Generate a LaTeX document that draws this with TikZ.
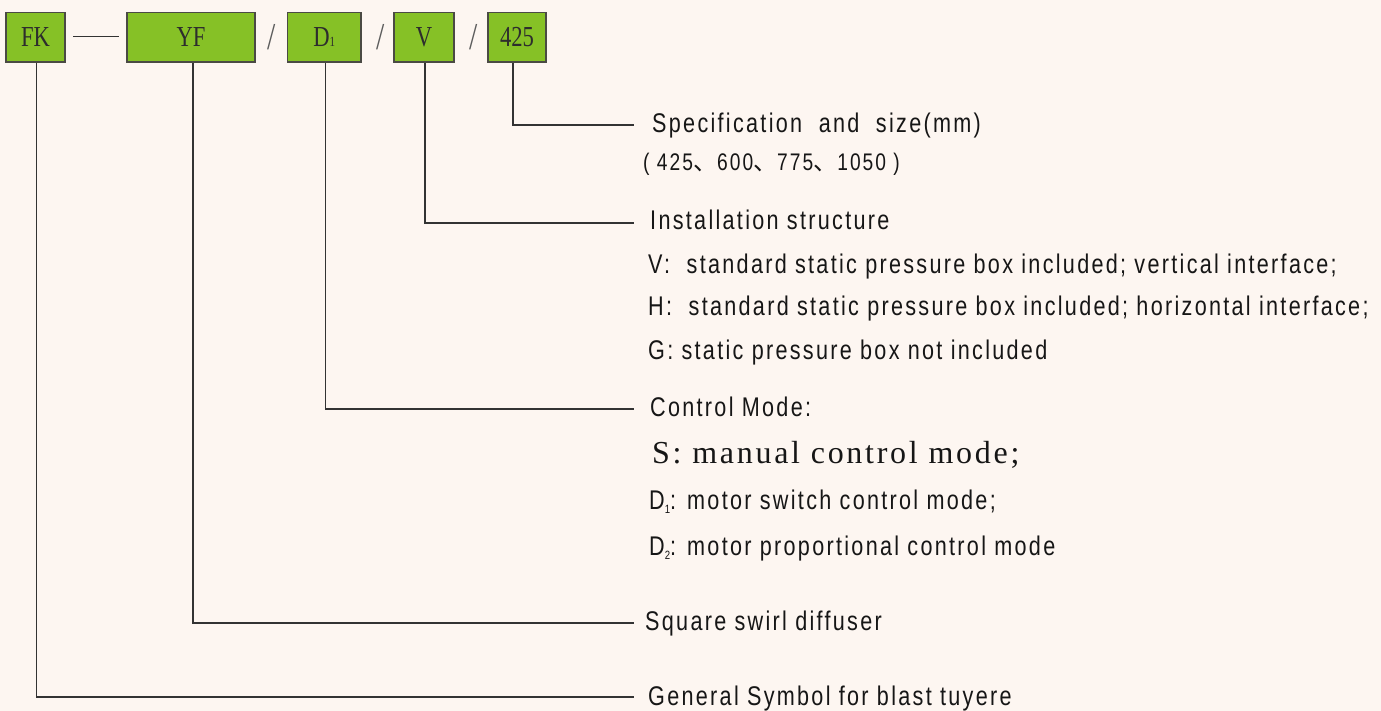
\documentclass[tikz,border=0pt]{standalone}
\usepackage{fontspec}
\setmainfont[FakeStretch=0.8,LetterSpace=8.5]{Liberation Sans}
\newfontfamily\boxfont[FakeStretch=0.78]{Liberation Serif}
\newfontfamily\serfont[LetterSpace=8.5]{Liberation Serif}
\newfontfamily\cjk{Noto Sans CJK SC}
\definecolor{bg}{HTML}{FDF6F1}
\definecolor{boxgreen}{HTML}{86C126}
\definecolor{boxline}{HTML}{4A4A44}
\definecolor{linecol}{HTML}{333333}
\definecolor{txt}{HTML}{161616}
\newcommand{\smallsub}[1]{\raisebox{-4pt}{\fontsize{12}{12}\selectfont #1}}
\tikzset{
  codebox/.style={draw=boxline,line width=1.2pt,fill=boxgreen,minimum height=49.5pt,inner sep=0pt,
    font=\boxfont\fontsize{29}{29}\selectfont,text=txt!90},
  conn/.style={draw=linecol,line width=1.2pt},
  lbl/.style={anchor=base west,inner sep=0pt,text=txt,font=\fontsize{27}{32}\selectfont},
  sep/.style={inner sep=0pt,text=txt!70,font=\boxfont\fontsize{38}{38}\selectfont}
}
\begin{document}
\begin{tikzpicture}[x=1pt,y=-1pt]
\fill[bg] (0,0) rectangle (1381,711);
\useasboundingbox (0,0) rectangle (1381,711);
% code boxes
\node[codebox,minimum width=59pt] (fk) at (35.5,37.25) {FK};
\node[codebox,minimum width=128pt] (yf) at (191,37.25) {YF};
\node[codebox,minimum width=73.5pt] (d1) at (324.25,37.25) {D{\fontsize{14}{14}\selectfont 1}};
\node[codebox,minimum width=60pt] (v) at (424,37.25) {V};
\node[codebox,minimum width=58pt] (sz) at (517,37.25) {425};
% separators
\coordinate (dashA) at (73,36.5);
\coordinate (dashB) at (119,36.5);
\draw[conn] (dashA) -- (dashB);
\node[sep] (s1) at (272,37) {/};
\node[sep] (s2) at (381,37) {/};
\node[sep] (s3) at (474,37) {/};
% line ends
\coordinate (eSz) at (634,125);
\coordinate (eV) at (634,223);
\coordinate (eD) at (634,409);
\coordinate (eYF) at (634,623);
\coordinate (eFK) at (634,697);
% labels
\node[lbl] (tSpec) at (652,133) {Specification\ \ and\ \ size(mm)};
\node[lbl,font=\fontsize{24}{28}\selectfont] (tSizes) at (643,171) {(\ 425{\cjk 、}600{\cjk 、}775{\cjk 、}1050\ )};
\node[lbl] (tInst) at (650,230) {Installation structure};
\node[lbl] (tV) at (648,273) {V:\ \ standard static pressure box included; vertical interface;};
\node[lbl] (tH) at (648,316) {H:\ \ standard static pressure box included; horizontal interface;};
\node[lbl] (tG) at (648,359) {G: static pressure box not included};
\node[lbl] (tCtl) at (650,416) {Control Mode:};
\node[lbl,font=\serfont\fontsize{32}{36}\selectfont] (tS) at (652,463) {S: manual control mode;};
\node[lbl] (tD1) at (649,509) {D\smallsub{1}: motor switch control mode;};
\node[lbl] (tD2) at (649,555) {D\smallsub{2}: motor proportional control mode};
\node[lbl] (tSq) at (645,630) {Square swirl diffuser};
\node[lbl] (tGen) at (648,705) {General Symbol for blast tuyere};
% connectors
\draw[conn] ([xshift=-4pt]sz.south) |- (eSz);
\draw[conn] ([xshift=1pt]v.south) |- (eV);
\draw[conn] ([xshift=1pt]d1.south) |- (eD);
\draw[conn] ([xshift=2pt]yf.south) |- (eYF);
\draw[conn] ([xshift=1pt]fk.south) |- (eFK);
\end{tikzpicture}
\end{document}
